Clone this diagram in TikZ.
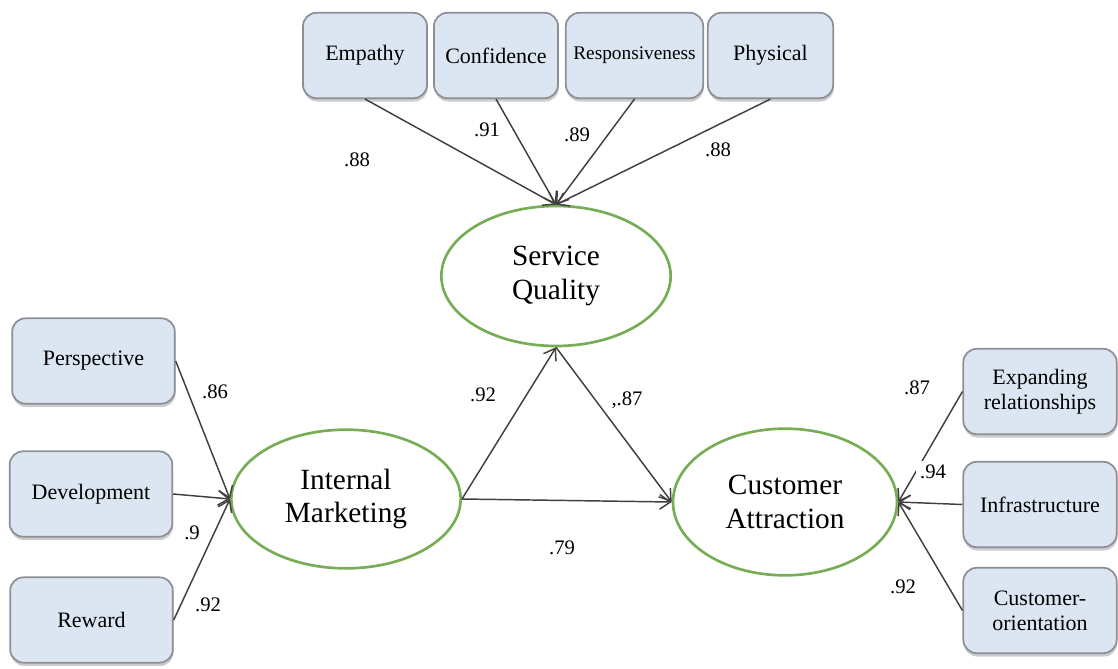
\documentclass[tikz,border=0pt]{standalone}
\usepackage{fontspec}
\setmainfont{Liberation Serif}
\usetikzlibrary{shapes.geometric,shadows,arrows.meta}
\definecolor{boxfill}{HTML}{DCE6F2}
\definecolor{boxline}{HTML}{8C9096}
\definecolor{latentline}{HTML}{77AD55}
\definecolor{pathline}{HTML}{404040}
\begin{document}
\begin{tikzpicture}[x=0.75pt,y=-0.75pt,
  >={Straight Barb[length=8pt,width=11pt]},
  indicator/.style={draw=boxline,fill=boxfill,line width=1.3pt,rounded corners=10pt,
    minimum height=64pt,align=center,font=\fontsize{16.5}{19}\selectfont,
    drop shadow={shadow xshift=0.5pt,shadow yshift=-2.5pt,fill=black!40}},
  construct/.style={ellipse,draw=latentline,line width=2pt,fill=white,inner sep=0pt,
    align=center,font=\fontsize{22}{25}\selectfont},
  loading/.style={->,draw=pathline,line width=1.1pt},
  coef/.style={fill=white,inner sep=3pt,font=\fontsize{15.5}{18}\selectfont}]
\useasboundingbox (0,0) rectangle (1118,668);
% latent variables
\node[construct,minimum width=172pt,minimum height=105pt] (sq) at (556,276) {Service\\Quality};
\node[construct,minimum width=172pt,minimum height=104pt] (im) at (346,499) {Internal\\Marketing};
\node[construct,minimum width=168pt,minimum height=110pt] (ca) at (785,502) {Customer\\Attraction};
% indicators of service quality
\foreach \name/\x/\w/\txt in {emp/365/93/Empathy, conf/496/93/Confidence,
    resp/634.5/103/{\fontsize{14.5}{17}\selectfont Responsiveness}, phys/770.5/94/Physical}{
  \node[indicator,minimum width=\w pt] (\name) at (\x,55.5) {\txt};
  \draw[loading] (\name.south) -- (sq.north);
}
% indicators of internal marketing
\foreach \name/\x/\y/\txt in {persp/93.5/361/Perspective, dev/91/494/Development, rew/91.5/620/Reward}{
  \node[indicator,minimum width=122pt] (\name) at (\x,\y) {\txt};
  \draw[loading] (\name.east) -- (im.west);
}
% indicators of customer attraction
\foreach \name/\y/\txt in {expa/391.5/{Expanding\\relationships}, infra/504.5/Infrastructure,
    cusor/610.5/{Customer-\\orientation}}{
  \node[indicator,minimum width=115pt] (\name) at (1040,\y) {\txt};
  \draw[loading] (\name.west) -- (ca.east);
}
% structural paths
\draw[loading] (im.east) -- (sq.south);
\draw[loading] (sq.south) -- (ca.west);
\draw[loading] (im.east) -- (ca.west);
% coefficients
\foreach \val/\x/\y [count=\i] in {.88/357/160, .91/487/130, .89/577/135, .88/718/150,
    .86/215/392, .9/192/533, .92/208/605, .92/483/395, {,.87}/627/400, .79/562/548,
    .87/917/388, .94/933/472, .92/903/587}
  \node[coef] (coef\i) at (\x,\y) {\val};
\end{tikzpicture}
\end{document}
